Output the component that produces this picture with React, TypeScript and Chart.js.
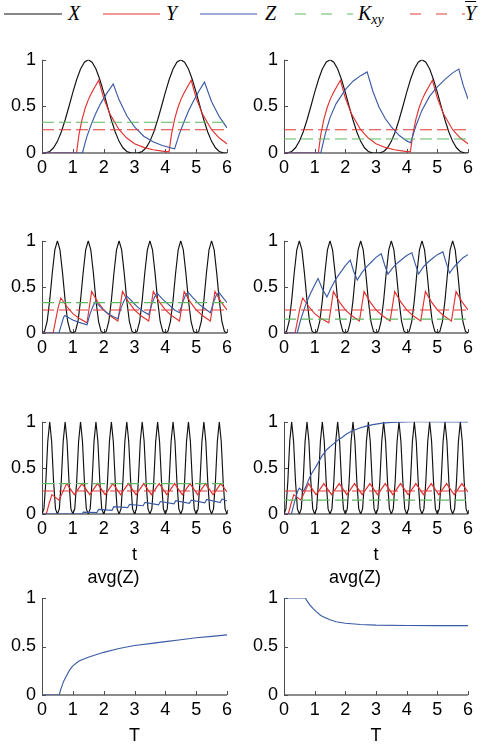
import React, { useEffect, useRef } from 'react';
import { Chart, registerables } from 'chart.js';
Chart.register(...registerables);

const FONT = "'Liberation Sans', Arial, Helvetica, sans-serif";
const MATH_FONT = "'Liberation Serif', 'DejaVu Serif', serif";

const T_MIN = 0;
const T_MAX = 6;
const X_TICK_STEP = 1;
const Y_TICK_STEP = 0.5;

const COLORS = { x: '#111111', y: '#e3312f', z: '#3b5ba5', kxy: '#5fb760', ybar: '#dd3a3a' };

// X(t) on uniform time grids (row 1: period 3, row 2: period 1, row 3: period 0.5)
const X_R1_STEP = 0.125;
const X_R1 = [
  0, 0.002, 0.017, 0.056, 0.125, 0.226, 0.354, 0.499, 0.65, 0.789, 0.901, 0.974,
  1, 0.974, 0.901, 0.789, 0.65, 0.499, 0.354, 0.226, 0.125, 0.056, 0.017, 0.002,
  0, 0.002, 0.017, 0.056, 0.125, 0.226, 0.354, 0.499, 0.65, 0.789, 0.901, 0.974,
  1, 0.974, 0.901, 0.789, 0.65, 0.499, 0.354, 0.226, 0.125, 0.056, 0.017, 0.002,
  0,
];
const X_R2_STEP = 1 / 12;
const X_R2 = [
  0, 0.017, 0.125, 0.354, 0.65, 0.901, 1, 0.901, 0.65, 0.354, 0.125, 0.017,
  0, 0.017, 0.125, 0.354, 0.65, 0.901, 1, 0.901, 0.65, 0.354, 0.125, 0.017,
  0, 0.017, 0.125, 0.354, 0.65, 0.901, 1, 0.901, 0.65, 0.354, 0.125, 0.017,
  0, 0.017, 0.125, 0.354, 0.65, 0.901, 1, 0.901, 0.65, 0.354, 0.125, 0.017,
  0, 0.017, 0.125, 0.354, 0.65, 0.901, 1, 0.901, 0.65, 0.354, 0.125, 0.017,
  0, 0.017, 0.125, 0.354, 0.65, 0.901, 1, 0.901, 0.65, 0.354, 0.125, 0.017,
  0,
];
const X_R3_STEP = 0.0625;
const X_R3 = [
  0, 0.056, 0.354, 0.788, 1, 0.788, 0.354, 0.056,
  0, 0.056, 0.354, 0.788, 1, 0.788, 0.354, 0.056,
  0, 0.056, 0.354, 0.788, 1, 0.788, 0.354, 0.056,
  0, 0.056, 0.354, 0.788, 1, 0.788, 0.354, 0.056,
  0, 0.056, 0.354, 0.788, 1, 0.788, 0.354, 0.056,
  0, 0.056, 0.354, 0.788, 1, 0.788, 0.354, 0.056,
  0, 0.056, 0.354, 0.788, 1, 0.788, 0.354, 0.056,
  0, 0.056, 0.354, 0.788, 1, 0.788, 0.354, 0.056,
  0, 0.056, 0.354, 0.788, 1, 0.788, 0.354, 0.056,
  0, 0.056, 0.354, 0.788, 1, 0.788, 0.354, 0.056,
  0, 0.056, 0.354, 0.788, 1, 0.788, 0.354, 0.056,
  0, 0.056, 0.354, 0.788, 1, 0.788, 0.354, 0.056,
  0,
];

// Y(t) per row, shared by both columns  [t, value]
const Y_R1 = [
  [0, 0], [1.12, 0], [1.2, 0.2], [1.3, 0.36], [1.4, 0.48], [1.5, 0.57], [1.6, 0.64], [1.7, 0.7], [1.84, 0.78],
  [2.0, 0.59], [2.2, 0.42], [2.5, 0.25], [2.75, 0.16], [3.0, 0.1], [3.3, 0.06], [3.6, 0.035], [3.9, 0.02], [4.12, 0.013],
  [4.2, 0.2], [4.3, 0.36], [4.4, 0.48], [4.5, 0.57], [4.6, 0.64], [4.7, 0.7], [4.84, 0.78],
  [5.0, 0.59], [5.2, 0.42], [5.5, 0.25], [5.75, 0.16], [6.0, 0.1],
];
const Y_R2 = [
  [0, 0], [0.36, 0], [0.45, 0.15], [0.52, 0.27], [0.61, 0.38], [0.8, 0.29], [1.0, 0.21], [1.2, 0.16], [1.46, 0.11],
  [1.61, 0.45], [1.8, 0.34], [2.0, 0.25], [2.2, 0.19], [2.46, 0.13],
  [2.61, 0.45], [2.8, 0.34], [3.0, 0.25], [3.2, 0.19], [3.46, 0.13],
  [3.61, 0.45], [3.8, 0.34], [4.0, 0.25], [4.2, 0.19], [4.46, 0.13],
  [4.61, 0.45], [4.8, 0.34], [5.0, 0.25], [5.2, 0.19], [5.46, 0.13],
  [5.61, 0.45], [5.8, 0.34], [6.0, 0.25],
];
const Y_R3 = [
  [0, 0], [0.14, 0], [0.22, 0.1], [0.32, 0.21], [0.55, 0.15], [0.8, 0.33], [1.05, 0.21], [1.3, 0.33], [1.55, 0.21],
  [1.8, 0.33], [2.05, 0.21], [2.3, 0.33], [2.55, 0.21], [2.8, 0.33], [3.05, 0.21], [3.3, 0.33], [3.55, 0.21],
  [3.8, 0.33], [4.05, 0.21], [4.3, 0.33], [4.55, 0.21], [4.8, 0.33], [5.05, 0.21], [5.3, 0.33], [5.55, 0.21],
  [5.8, 0.33], [6.0, 0.24],
];

// Z(t) per panel  [t, value]
const Z_R1_LEFT = [
  [0, 0], [1.31, 0], [1.45, 0.17], [1.6, 0.31], [1.75, 0.43], [1.9, 0.53], [2.1, 0.64], [2.31, 0.74],
  [2.5, 0.57], [2.75, 0.4], [3.0, 0.28], [3.3, 0.18], [3.6, 0.12], [3.9, 0.08], [4.3, 0.045],
  [4.45, 0.2], [4.6, 0.33], [4.75, 0.45], [4.9, 0.55], [5.1, 0.67], [5.27, 0.76],
  [5.5, 0.55], [5.75, 0.39], [6.0, 0.27],
];
const Z_R1_RIGHT = [
  [0, 0], [1.2, 0], [1.35, 0.21], [1.5, 0.38], [1.7, 0.53], [2.0, 0.68], [2.25, 0.77], [2.5, 0.83], [2.71, 0.87],
  [2.9, 0.66], [3.1, 0.49], [3.3, 0.37], [3.5, 0.28], [3.75, 0.19], [4.0, 0.13], [4.13, 0.11],
  [4.3, 0.29], [4.5, 0.46], [4.75, 0.61], [5.0, 0.71], [5.25, 0.79], [5.5, 0.86], [5.7, 0.9],
  [5.85, 0.72], [6.0, 0.58],
];
const Z_R2_LEFT = [
  [0, 0], [0.55, 0], [0.62, 0.08], [0.7, 0.17], [0.74, 0.19], [1.0, 0.14], [1.2, 0.115], [1.46, 0.09],
  [1.55, 0.2], [1.64, 0.28], [1.73, 0.34], [1.9, 0.28], [2.1, 0.22], [2.3, 0.18], [2.46, 0.155],
  [2.56, 0.27], [2.66, 0.35], [2.75, 0.4], [2.9, 0.35], [3.1, 0.28], [3.3, 0.23], [3.46, 0.2],
  [3.56, 0.31], [3.65, 0.39], [3.74, 0.43], [3.9, 0.37], [4.1, 0.31], [4.3, 0.25], [4.46, 0.22],
  [4.56, 0.33], [4.65, 0.41], [4.74, 0.44], [4.9, 0.38], [5.1, 0.31], [5.3, 0.26], [5.46, 0.22],
  [5.56, 0.33], [5.65, 0.41], [5.74, 0.44], [5.9, 0.37], [6.0, 0.33],
];
const Z_R2_RIGHT = [
  [0, 0], [0.43, 0], [0.55, 0.15], [0.7, 0.3], [0.85, 0.42], [1.0, 0.52], [1.11, 0.59], [1.25, 0.48], [1.4, 0.39],
  [1.55, 0.5], [1.7, 0.59], [1.85, 0.66], [2.0, 0.73], [2.16, 0.79], [2.27, 0.67], [2.39, 0.575],
  [2.55, 0.66], [2.7, 0.72], [2.85, 0.77], [3.0, 0.82], [3.17, 0.86], [3.28, 0.74], [3.39, 0.64],
  [3.55, 0.71], [3.7, 0.76], [3.85, 0.8], [4.0, 0.84], [4.17, 0.87], [4.28, 0.75], [4.39, 0.64],
  [4.55, 0.72], [4.7, 0.77], [4.85, 0.81], [5.0, 0.85], [5.18, 0.88], [5.29, 0.76], [5.4, 0.65],
  [5.55, 0.72], [5.7, 0.77], [5.85, 0.82], [6.0, 0.85],
];
const Z_R3_LEFT = [
  [0, 0], [1.3, 0], [1.34, 0.02], [1.78, 0.015], [1.84, 0.05], [2.27, 0.04], [2.33, 0.08], [2.78, 0.07],
  [2.84, 0.105], [3.28, 0.09], [3.34, 0.125], [3.78, 0.1], [3.84, 0.135], [4.28, 0.11], [4.34, 0.145],
  [4.78, 0.115], [4.84, 0.15], [5.28, 0.12], [5.34, 0.158], [5.78, 0.125], [5.84, 0.162], [6.0, 0.14],
];
const Z_R3_RIGHT = [
  [0, 0], [0.24, 0], [0.35, 0.14], [0.45, 0.25], [0.5, 0.28], [0.57, 0.26], [0.64, 0.25], [0.72, 0.3],
  [0.8, 0.37], [0.9, 0.44], [1.02, 0.5], [1.12, 0.56], [1.24, 0.63], [1.4, 0.7], [1.57, 0.75], [1.75, 0.8],
  [1.89, 0.83], [2.05, 0.87], [2.22, 0.9], [2.45, 0.93], [2.65, 0.95], [2.9, 0.97], [3.2, 0.985],
  [3.5, 0.993], [3.75, 0.997], [4.2, 1.0], [6.0, 1.0],
];

// avg(Z) versus period T
const AVG_Z_LEFT = [
  [0, 0], [0.56, 0], [0.6, 0.05], [0.7, 0.14], [0.8, 0.2], [0.9, 0.26], [1.0, 0.3], [1.2, 0.35], [1.5, 0.39],
  [2.0, 0.44], [2.5, 0.48], [3.0, 0.51], [3.5, 0.53], [4.0, 0.55], [4.5, 0.57], [5.0, 0.59], [5.5, 0.605], [6.0, 0.62],
];
const AVG_Z_RIGHT = [
  [0, 1], [0.7, 1], [0.75, 0.97], [0.84, 0.93], [0.95, 0.89], [1.05, 0.86], [1.2, 0.82], [1.33, 0.8],
  [1.5, 0.775], [1.7, 0.755], [2.0, 0.74], [2.5, 0.727], [3.0, 0.72], [4.0, 0.716], [5.0, 0.715], [6.0, 0.715],
];

// thresholds per column (left, right)
const KXY = [0.33, 0.15];
const YBAR = [0.25, 0.25];

const grid = (vals: number[], step: number) => vals.map((v, i) => ({ x: i * step, y: v }));
const pairs = (p: number[][]) => p.map(([x, y]) => ({ x, y }));
const hLine = (v: number) => [{ x: T_MIN, y: v }, { x: T_MAX, y: v }];

function ds(label: string, data: any[], color: string, order: number, dash: number[] = []) {
  return { label, data, borderColor: color, backgroundColor: color, borderWidth: 1.15, pointRadius: 0, borderDash: dash, tension: 0, fill: false, order };
}

function timePanelSets(x: any[], y: any[], z: any[], col: number) {
  return [
    ds('X', x, COLORS.x, 5),
    ds('Y', y, COLORS.y, 4),
    ds('Z', z, COLORS.z, 3),
    ds('Kxy', hLine(KXY[col]), COLORS.kxy, 2, [12, 5]),
    ds('Ybar', hLine(YBAR[col]), COLORS.ybar, 1, [12, 5]),
  ];
}

const PAD_L = 42;
const PAD_R = 12;
const PAD_T = 12;

const axesPlugin = {
  id: 'matlabAxes',
  beforeDatasetsDraw(chart: any) {
    const { ctx, chartArea: a, scales } = chart;
    ctx.save();
    ctx.strokeStyle = '#8c8c8c';
    ctx.lineWidth = 2;
    ctx.beginPath();
    ctx.moveTo(a.left, a.bottom);
    ctx.lineTo(a.right, a.bottom);
    ctx.stroke();
    ctx.strokeStyle = '#4d4d4d';
    ctx.lineWidth = 1;
    ctx.beginPath();
    ctx.moveTo(Math.round(a.left) + 0.5, a.top);
    ctx.lineTo(Math.round(a.left) + 0.5, a.bottom);
    ctx.stroke();
    ctx.beginPath();
    scales.x.ticks.forEach((t: any) => {
      const px = Math.round(scales.x.getPixelForValue(t.value)) + 0.5;
      ctx.moveTo(px, a.bottom);
      ctx.lineTo(px, a.bottom - 4);
    });
    scales.y.ticks.forEach((t: any) => {
      const py = Math.round(scales.y.getPixelForValue(t.value)) + 0.5;
      ctx.moveTo(a.left, py);
      ctx.lineTo(a.left + 4, py);
    });
    ctx.stroke();
    ctx.restore();
  },
};

type PanelProps = { left: number; top: number; w: number; h: number; datasets: any[]; title?: string; xTitle?: string };

function Panel({ left, top, w, h, datasets, title, xTitle }: PanelProps) {
  const ref = useRef<HTMLCanvasElement>(null);
  const topExtra = title ? 40 : PAD_T;
  const bottomExtra = xTitle ? 52 : 30;
  const W = w + PAD_L + PAD_R;
  const H = topExtra + h + bottomExtra;
  useEffect(() => {
    if (!ref.current) return;
    const chart = new Chart(ref.current, {
      type: 'line',
      data: { datasets },
      plugins: [axesPlugin],
      options: {
        responsive: false,
        animation: false,
        layout: { padding: { left: 0, right: PAD_R, top: title ? 0 : PAD_T, bottom: 0 } },
        plugins: {
          legend: { display: false },
          tooltip: { enabled: false },
          title: title
            ? { display: true, text: title, color: '#000', font: { family: FONT, size: 18, weight: 'normal' }, padding: { top: 9.4, bottom: 9 } }
            : { display: false },
        },
        scales: {
          x: {
            type: 'linear',
            min: T_MIN,
            max: T_MAX,
            grid: { display: false, drawTicks: false },
            border: { display: false },
            ticks: { stepSize: X_TICK_STEP, color: '#000', font: { family: FONT, size: 18 }, padding: 4, maxRotation: 0, autoSkip: false, callback: (v: any) => String(v) },
            title: xTitle
              ? { display: true, text: xTitle, color: '#000', font: { family: FONT, size: 18 }, padding: { top: 0, bottom: 0 } }
              : { display: false },
            afterFit: (s: any) => { s.height = bottomExtra; },
          },
          y: {
            type: 'linear',
            min: 0,
            max: 1,
            grid: { display: false, drawTicks: false },
            border: { display: false },
            ticks: { stepSize: Y_TICK_STEP, color: '#000', font: { family: FONT, size: 18 }, padding: 6, callback: (v: any) => String(v) },
            afterFit: (s: any) => { s.width = PAD_L; },
          },
        },
      } as any,
    });
    return () => chart.destroy();
  }, []);
  return (
    <canvas
      ref={ref}
      width={W}
      height={H}
      style={{ position: 'absolute', left: left - PAD_L, top: top - topExtra, width: W, height: H }}
    />
  );
}

const LEGEND_Y = 14;
function Legend() {
  const lines = [
    { x1: 4, x2: 62, c: COLORS.x, dash: undefined },
    { x1: 103, x2: 160, c: COLORS.y, dash: undefined },
    { x1: 200, x2: 257, c: COLORS.z, dash: undefined },
    { x1: 295, x2: 353, c: COLORS.kxy, dash: '11 15' },
    { x1: 410, x2: 465, c: COLORS.ybar, dash: '11 15' },
  ];
  const txt: React.CSSProperties = {
    position: 'absolute', top: 2, fontFamily: MATH_FONT, fontStyle: 'italic', fontSize: 20, lineHeight: '22px', color: '#000', whiteSpace: 'nowrap',
  };
  return (
    <div style={{ position: 'absolute', left: 0, top: 0, width: 493, height: 30 }}>
      <svg width={493} height={30} style={{ position: 'absolute', left: 0, top: 0 }}>
        {lines.map((l, i) => (
          <line key={i} x1={l.x1} x2={l.x2} y1={LEGEND_Y} y2={LEGEND_Y} stroke={l.c} strokeWidth={1.2} strokeDasharray={l.dash} />
        ))}
      </svg>
      <span style={{ ...txt, left: 68 }}>X</span>
      <span style={{ ...txt, left: 166 }}>Y</span>
      <span style={{ ...txt, left: 265 }}>Z</span>
      <span style={{ ...txt, left: 358 }}>
        K<span style={{ fontSize: 14, position: 'relative', top: 4 }}>xy</span>
      </span>
      <span style={{ ...txt, left: 465, textDecoration: 'overline', textDecorationThickness: 1 }}>Y</span>
    </div>
  );
}

const COL_LEFT = [42, 284];
const COL_W = [185, 184];
const ROW_TOP = [55, 236, 417, 598];
const ROW_H = [98, 97, 97, 97];

export default function App() {
  const xR1 = grid(X_R1, X_R1_STEP);
  const xR2 = grid(X_R2, X_R2_STEP);
  const xR3 = grid(X_R3, X_R3_STEP);
  const panels: PanelProps[] = [
    { left: COL_LEFT[0], top: ROW_TOP[0], w: COL_W[0], h: ROW_H[0], datasets: timePanelSets(xR1, pairs(Y_R1), pairs(Z_R1_LEFT), 0) },
    { left: COL_LEFT[1], top: ROW_TOP[0], w: COL_W[1], h: ROW_H[0], datasets: timePanelSets(xR1, pairs(Y_R1), pairs(Z_R1_RIGHT), 1) },
    { left: COL_LEFT[0], top: ROW_TOP[1], w: COL_W[0], h: ROW_H[1], datasets: timePanelSets(xR2, pairs(Y_R2), pairs(Z_R2_LEFT), 0) },
    { left: COL_LEFT[1], top: ROW_TOP[1], w: COL_W[1], h: ROW_H[1], datasets: timePanelSets(xR2, pairs(Y_R2), pairs(Z_R2_RIGHT), 1) },
    { left: COL_LEFT[0], top: ROW_TOP[2], w: COL_W[0], h: ROW_H[2], datasets: timePanelSets(xR3, pairs(Y_R3), pairs(Z_R3_LEFT), 0), xTitle: 't' },
    { left: COL_LEFT[1], top: ROW_TOP[2], w: COL_W[1], h: ROW_H[2], datasets: timePanelSets(xR3, pairs(Y_R3), pairs(Z_R3_RIGHT), 1), xTitle: 't' },
    { left: COL_LEFT[0], top: ROW_TOP[3], w: COL_W[0], h: ROW_H[3], datasets: [ds('avg(Z)', pairs(AVG_Z_LEFT), COLORS.z, 1)], title: 'avg(Z)', xTitle: 'T' },
    { left: COL_LEFT[1], top: ROW_TOP[3], w: COL_W[1], h: ROW_H[3], datasets: [ds('avg(Z)', pairs(AVG_Z_RIGHT), COLORS.z, 1)], title: 'avg(Z)', xTitle: 'T' },
  ];
  return (
    <div style={{ position: 'absolute', left: 0, top: 0, width: 493, height: 746, background: '#fff', overflow: 'hidden' }}>
      <Legend />
      {panels.map((p, i) => (
        <Panel key={i} {...p} />
      ))}
    </div>
  );
}
